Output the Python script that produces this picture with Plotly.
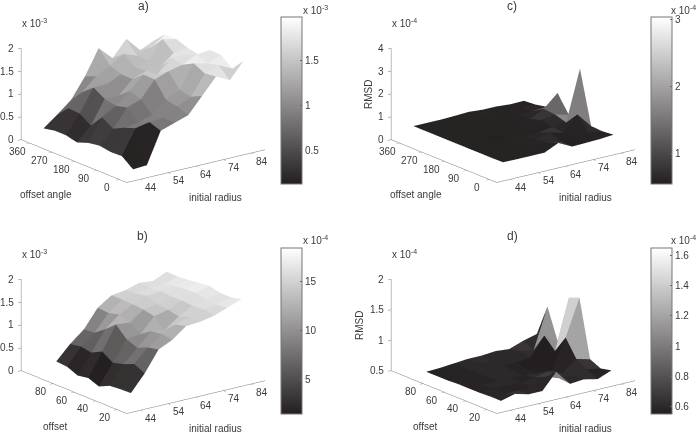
import plotly.graph_objects as go

W, H = 699, 432
radius = [44, 49, 54, 59, 64, 69, 74, 79, 84]
angle = [0, 45, 90, 135, 180, 225, 270, 315, 360]
offset = [20, 30, 40, 50, 60, 70, 80, 90]

za = [
 [.15,.17,.85,.95,1.05,1.40,1.75,1.60,1.95],
 [.34,.88,.94,.96,1.14,1.28,1.72,1.83,1.68],
 [.33,.79,.83,.93,1.19,1.33,1.84,1.77,1.88],
 [.37,.67,1.06,1.17,1.53,1.64,1.71,1.86,1.89],
 [.33,.82,1.00,1.25,1.54,1.47,1.76,1.76,1.69],
 [.24,.54,1.05,1.05,1.34,1.45,1.45,1.70,1.74],
 [.30,.70,1.20,1.21,1.35,1.43,1.50,1.90,1.83],
 [.30,.72,1.00,1.28,1.44,1.62,1.51,1.62,1.83],
 [.25,.48,.73,1.17,1.72,1.43,1.78,1.46,1.60],
]
zb = [
 [.29,.65,1.10,1.24,1.47,1.49,1.55,1.66,1.77],
 [.28,.76,1.05,1.27,1.41,1.50,1.60,1.62,1.72],
 [.26,.66,.95,1.24,1.20,1.42,1.58,1.65,1.72],
 [.15,.60,1.04,1.08,1.40,1.47,1.60,1.70,1.78],
 [.24,.75,1.27,1.24,1.45,1.50,1.60,1.68,1.75],
 [.20,.63,1.07,1.32,1.47,1.58,1.62,1.66,1.72],
 [.30,.67,.90,1.26,1.48,1.55,1.60,1.60,1.70],
 [.32,.63,.88,1.28,1.48,1.52,1.61,1.58,1.71],
]
zc = [
 [.61,.60,.60,.60,.88,.58,.60,.62,.67],
 [.60,.60,.60,.62,.70,.60,.62,.70,.62],
 [.60,.60,.60,.62,.65,.80,.65,1.30,.65],
 [.60,.60,.58,.60,.60,.60,.70,.75,2.97],
 [.60,.60,.60,.60,.60,.62,.80,.90,.75],
 [.60,.60,.60,.60,.60,.60,.65,.95,1.50],
 [.60,.60,.60,.60,.60,.60,.62,.65,.70],
 [.60,.60,.60,.60,.62,.62,.60,.60,.60],
 [.60,.60,.60,.62,.65,.60,.60,.55,.56],
]
zd = [
 [.59,.65,.59,.59,.85,.60,.62,.57,.66],
 [.59,.58,.58,.60,.70,.62,.62,.66,.62],
 [.58,.60,.60,.58,.62,.66,.58,.76,.70],
 [.58,.58,.60,.60,.58,.56,.55,1.04,1.64],
 [.58,.58,.60,.60,.58,.55,.55,.75,1.57],
 [.57,.58,.60,.60,.60,.60,.62,.93,.76],
 [.57,.58,.60,.62,.60,.60,.66,.62,1.28],
 [.57,.58,.60,.62,.62,.64,.62,.70,.76],
 [.57,.58,.60,.60,.60,.58,.56,.55,.56],
]
# facet shades that differ from the facet's own corner height: (row, column): value
shade_c = {(2, 7): 1.6, (3, 7): 1.7, (4, 7): 1.35, (5, 7): 1.35}
shade_d = {(0, 4): 1.05, (2, 7): 1.2, (3, 7): 1.42, (4, 7): 1.1, (5, 7): 1.12}

TXT = "#3a3a3a"
FONT = "Liberation Sans"
GRAY = [[0, "#231f20"], [1, "#ffffff"]]
EYE = (-0.577, -0.755, 0.31)
EYE_R = 1.11

def mesh(xs, ys, zz, shade):
    nx, ny = len(xs), len(ys)
    X, Y, Z, I, J, K, C = [], [], [], [], [], [], []
    for r, y in enumerate(ys):
        for c, x in enumerate(xs):
            X.append(x); Y.append(y); Z.append(zz[r][c])
    for r in range(ny - 1):
        for c in range(nx - 1):
            a = r * nx + c; b = a + 1; d = a + nx; e = d + 1
            I += [a, a]; J += [b, e]; K += [e, d]
            v = shade.get((r, c), zz[r][c])
            C += [v, v]
    return X, Y, Z, I, J, K, C

def axis(vals, rng):
    return dict(
        range=rng, tickvals=vals, showticklabels=False,
        showbackground=False, showgrid=False, zeroline=False, showspikes=False,
        showline=True, linecolor="#777777", linewidth=1,
        ticks="outside", ticklen=4, tickcolor="#777777", title=dict(text=""),
    )

def label(x, y, z, text, xanchor, xshift, yshift):
    return dict(x=x, y=y, z=z, text=text, showarrow=False, xanchor=xanchor, yanchor="middle",
                xshift=xshift, yshift=yshift, font=dict(family=FONT, size=10, color=TXT))

radius_ticks = [44, 54, 64, 74, 84]
panels = [
 dict(name="scene", xs=radius, ys=angle, z=za, shade={}, cx=142.5, cy=99, yr=[-30, 394], yt=[0,90,180,270,360],
      zr=[0,2], zt=[0,.5,1,1.5,2], zl=["0","0.5","1","1.5","2"], cmin=.12, cmax=1.99,
      cbv=[.5,1,1.5], cbl=["0.5","1","1.5"], bx=281, btop=17, bbot=184),
 dict(name="scene2", xs=radius, ys=offset, z=zb, shade={}, cx=142.5, cy=330, yr=[11, 110], yt=[20,40,60,80],
      zr=[0,2], zt=[0,.5,1,1.5,2], zl=["0","0.5","1","1.5","2"], cmin=.143, cmax=1.84,
      cbv=[.5,1,1.5], cbl=["5","10","15"], bx=281, btop=248, bbot=414),
 dict(name="scene3", xs=radius, ys=angle, z=zc, shade=shade_c, cx=512.5, cy=99, yr=[-30, 394], yt=[0,90,180,270,360],
      zr=[0,4], zt=[0,1,2,3,4], zl=["0","1","2","3","4"], cmin=.555, cmax=3.03,
      cbv=[1,2,3], cbl=["1","2","3"], bx=651, btop=17, bbot=184),
 dict(name="scene4", xs=radius, ys=offset, z=zd, shade=shade_d, cx=512.5, cy=330, yr=[11, 110], yt=[20,40,60,80],
      zr=[.5,2], zt=[.5,1,1.5,2], zl=["0.5","1","1.5","2"], cmin=.55, cmax=1.65,
      cbv=[.6,.8,1,1.2,1.4,1.6], cbl=["0.6","0.8","1","1.2","1.4","1.6"], bx=651, btop=248, bbot=414),
]

fig = go.Figure()
layout = dict(width=W, height=H, margin=dict(l=0, r=0, t=0, b=0), paper_bgcolor="white",
              showlegend=False, autosize=False)
for p in panels:
    X, Y, Z, I, J, K, C = mesh(p["xs"], p["ys"], p["z"], p["shade"])
    fig.add_trace(go.Mesh3d(
        x=X, y=Y, z=Z, i=I, j=J, k=K, intensity=C, intensitymode="cell",
        colorscale=GRAY, cmin=p["cmin"], cmax=p["cmax"], flatshading=True,
        lighting=dict(ambient=1, diffuse=0, specular=0, fresnel=0, roughness=1),
        hoverinfo="skip", scene=p["name"],
        colorbar=dict(
            x=p["bx"] / W, xanchor="left", xpad=0, ypad=0,
            y=1 - p["bbot"] / H, yanchor="bottom",
            len=p["bbot"] - p["btop"], lenmode="pixels",
            thickness=21, thicknessmode="pixels",
            tickvals=p["cbv"], ticktext=p["cbl"], ticks="inside", ticklen=2,
            tickcolor="#666666", outlinecolor="#777777", outlinewidth=1,
            tickfont=dict(family=FONT, size=10, color=TXT)),
    ))
    hw, hh = 140, 95
    xlo, ylo, yhi, zlo = 39, p["yr"][0], p["yr"][1], p["zr"][0]
    ann = [label(v, ylo, zlo, str(v), "center", 11, -8) for v in radius_ticks]
    ann += [label(xlo, v, zlo, str(v), "center", -12, -8) for v in p["yt"]]
    ann += [label(xlo, yhi, v, t, "right", -5, 0) for v, t in zip(p["zt"], p["zl"])]
    layout[p["name"]] = dict(
        domain=dict(x=[(p["cx"] - hw) / W, (p["cx"] + hw) / W],
                    y=[1 - (p["cy"] + hh) / H, 1 - (p["cy"] - hh) / H]),
        xaxis=axis(radius_ticks, [39, 89]),
        yaxis=axis(p["yt"], p["yr"]),
        zaxis=axis(p["zt"], p["zr"]),
        aspectmode="manual", aspectratio=dict(x=1.83, y=1.83, z=1.012),
        camera=dict(projection=dict(type="orthographic"),
                    up=dict(x=0, y=0, z=1), center=dict(x=0, y=0, z=0),
                    eye=dict(x=EYE[0]*EYE_R, y=EYE[1]*EYE_R, z=EYE[2]*EYE_R)),
        bgcolor="white", annotations=ann,
    )

def note(x, y, text, size=10, angle=0):
    return dict(x=x / W, y=1 - y / H, xref="paper", yref="paper", text=text, showarrow=False,
                xanchor="center", yanchor="middle", textangle=angle,
                font=dict(family=FONT, size=size, color=TXT))

notes = [
 note(143, 6, "a)", 12), note(142, 236, "b)", 12), note(512, 6, "c)", 12), note(512, 236, "d)", 12),
 note(34, 23, "x 10<sup>-3</sup>"), note(34, 254, "x 10<sup>-3</sup>"),
 note(404, 23, "x 10<sup>-4</sup>"), note(404, 254, "x 10<sup>-4</sup>"),
 note(315, 10, "x 10<sup>-3</sup>"), note(315, 240, "x 10<sup>-4</sup>"),
 note(683, 10, "x 10<sup>-4</sup>"), note(683, 240, "x 10<sup>-4</sup>"),
 note(46, 195, "offset angle"), note(215, 197, "initial radius"),
 note(416, 195, "offset angle"), note(585, 197, "initial radius"),
 note(55, 426, "offset"), note(215, 428, "initial radius"),
 note(425, 426, "offset"), note(585, 428, "initial radius"),
 note(368, 95, "RMSD", angle=-90), note(359, 326, "RMSD", angle=-90),
]
fig.update_layout(**layout, annotations=notes)
fig.write_html("out.html", post_script="document.body.style.margin='0';",
               config=dict(displayModeBar=False))
